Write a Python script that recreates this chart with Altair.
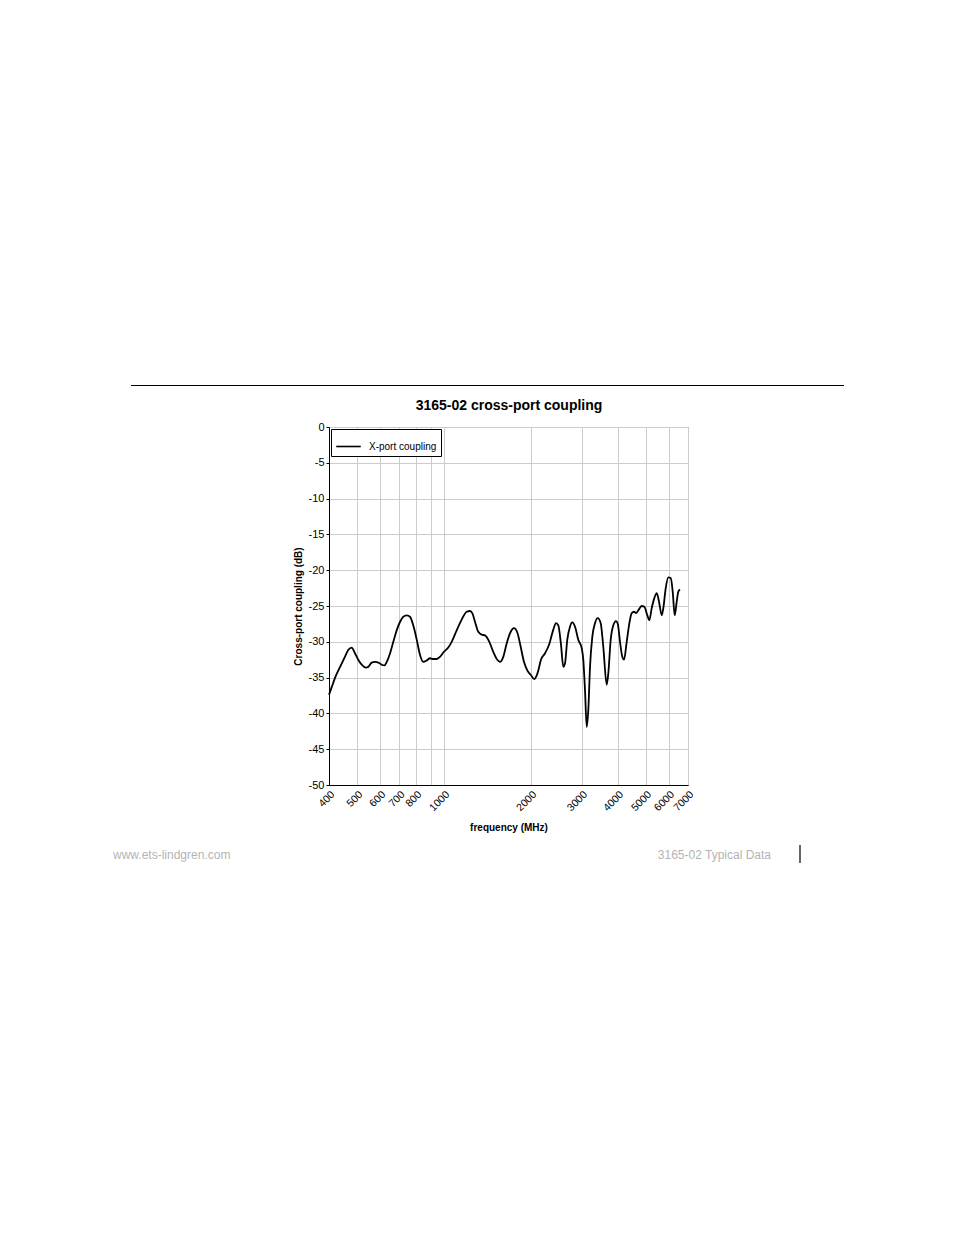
import altair as alt
import pandas as pd

# ---- data ----
freq_mhz = [400, 409, 420, 437, 454, 467, 479, 492, 505, 519, 536, 547, 562, 577, 593,
            609, 622, 634, 651, 668, 686, 705, 723, 743, 763, 783, 805, 826, 848, 872,
            895, 912, 944, 969, 995, 1035, 1064, 1107, 1152, 1199, 1231, 1254, 1281,
            1315, 1351, 1387, 1436, 1482, 1530, 1564, 1605, 1650, 1703, 1748, 1795,
            1844, 1893, 1944, 1997, 2056, 2112, 2168, 2239, 2317, 2392, 2444, 2489,
            2543, 2590, 2626, 2674, 2732, 2783, 2844, 2919, 3000, 3038, 3079, 3122,
            3162, 3205, 3264, 3335, 3408, 3490, 3563, 3661, 3708, 3780, 3859, 3943,
            4000, 4071, 4146, 4203, 4294, 4374, 4469, 4552, 4625, 4711, 4840, 4941,
            5061, 5142, 5242, 5352, 5455, 5556, 5677, 5750, 5861, 5983, 6099, 6197,
            6296, 6398, 6480, 6568]
coupling_db = [-37.4, -36.3, -35.0, -33.5, -32.1, -31.1, -30.8, -31.6, -32.5, -33.2, -33.6,
               -33.5, -32.9, -32.8, -32.9, -33.2, -33.3, -32.8, -31.6, -30.0, -28.4, -27.2,
               -26.5, -26.3, -26.5, -27.7, -29.7, -31.8, -32.8, -32.6, -32.3, -32.4, -32.4,
               -32.1, -31.5, -30.8, -30.0, -28.4, -26.9, -25.8, -25.7, -26.0, -27.2, -28.6,
               -29.0, -29.1, -30.0, -31.4, -32.5, -32.8, -32.1, -30.2, -28.6, -28.1, -28.7,
               -30.7, -32.8, -34.0, -34.6, -35.2, -34.3, -32.5, -31.6, -30.3, -28.3, -27.4,
               -27.7, -30.4, -33.5, -33.0, -29.7, -27.9, -27.3, -27.9, -29.7, -30.9, -32.5,
               -36.7, -41.9, -39.5, -33.5, -29.3, -27.4, -26.7, -27.4, -30.7, -36.0, -34.4,
               -29.7, -27.7, -27.1, -27.5, -30.0, -32.1, -32.5, -30.0, -27.7, -26.0, -25.8,
               -26.0, -25.6, -25.0, -25.1, -26.3, -27.0, -25.3, -23.9, -23.2, -24.4, -26.3,
               -25.3, -22.5, -21.0, -21.1, -23.0, -26.3, -24.4, -23.0, -22.7]
series_name = "X-port coupling"
x_ticks = [400, 500, 600, 700, 800, 900, 1000, 2000, 3000, 4000, 5000, 6000, 7000]
y_ticks = [0, -5, -10, -15, -20, -25, -30, -35, -40, -45, -50]
title_text = ["3165-02 cross-port coupling"]
x_title = "frequency (MHz)"
y_title = "Cross-port coupling (dB)"
footer_left = ["www.ets-lindgren.com"]
footer_right = ["3165-02 Typical Data"]

NARROW = "Liberation Sans Narrow, Arial Narrow, Liberation Sans, Arial, sans-serif"
REG = "Liberation Sans, Arial, sans-serif"

df = pd.DataFrame({"freq": freq_mhz, "db": coupling_db, "series": series_name})

line = alt.Chart(df).mark_line(strokeWidth=1.8, interpolate="monotone").encode(
    x=alt.X("freq:Q",
            scale=alt.Scale(type="log", domain=[400, 7000], nice=False),
            axis=alt.Axis(values=x_ticks, format="d",
                          labelExpr="datum.value == 900 ? '' : toString(datum.value)",
                          labelAngle=-45, labelFont=NARROW, labelFontSize=10.5,
                          labelColor="black", tickSize=0, domainColor="black",
                          gridColor="#cccccc", title=x_title, titleFont=REG,
                          titleFontSize=10, titleFontWeight="bold", titlePadding=10,
                          labelPadding=4, labelOverlap=False)),
    y=alt.Y("db:Q",
            scale=alt.Scale(domain=[-50, 0], nice=False),
            axis=alt.Axis(values=y_ticks, labelExpr="toString(datum.value)",
                          labelFont=NARROW, labelFontSize=11,
                          labelColor="black", tickSize=3, tickColor="black",
                          domainColor="black", gridColor="#cccccc",
                          title=y_title, titleFont=REG, titleFontSize=10,
                          titleFontWeight="bold", titlePadding=5, labelPadding=2)),
    color=alt.Color("series:N", scale=alt.Scale(range=["black"]),
                    legend=alt.Legend(orient="top-left", title=None, offset=2,
                                      symbolType="stroke", symbolSize=600,
                                      symbolStrokeWidth=1.6, strokeColor="black",
                                      fillColor="white", padding=4,
                                      labelFont=NARROW, labelFontSize=10,
                                      labelColor="black", labelOffset=7)),
)

title_mark = alt.Chart(pd.DataFrame({"t": title_text})).mark_text(
    align="center", baseline="middle", font=NARROW, fontSize=14, fontWeight="bold",
    color="black").encode(text="t:N", x=alt.value(180), y=alt.value(-21))

header_rule = alt.Chart(pd.DataFrame({"a": [0]})).mark_rule(color="black", strokeWidth=1).encode(
    x=alt.value(-198), x2=alt.value(515), y=alt.value(-41.5))

left_txt = alt.Chart(pd.DataFrame({"t": footer_left})).mark_text(
    align="left", baseline="middle", font=REG, fontSize=12, color="#b4b4b4").encode(
    text="t:N", x=alt.value(-216), y=alt.value(428))

right_txt = alt.Chart(pd.DataFrame({"t": footer_right})).mark_text(
    align="right", baseline="middle", font=REG, fontSize=12, color="#b4b4b4").encode(
    text="t:N", x=alt.value(442), y=alt.value(428))

bar = alt.Chart(pd.DataFrame({"a": [0]})).mark_rule(color="black", strokeWidth=1.2).encode(
    x=alt.value(471), y=alt.value(418), y2=alt.value(436))

chart = alt.layer(line, title_mark, header_rule, left_txt, right_txt, bar).properties(
    width=359, height=358,
    autosize=alt.AutoSizeParams(type="none"),
    padding={"left": 321, "top": 419, "right": 258, "bottom": 440},
    background="white",
).configure_view(stroke="#888888", strokeWidth=1)

chart.save("out.html", embed_options={"renderer": "svg", "actions": False})
